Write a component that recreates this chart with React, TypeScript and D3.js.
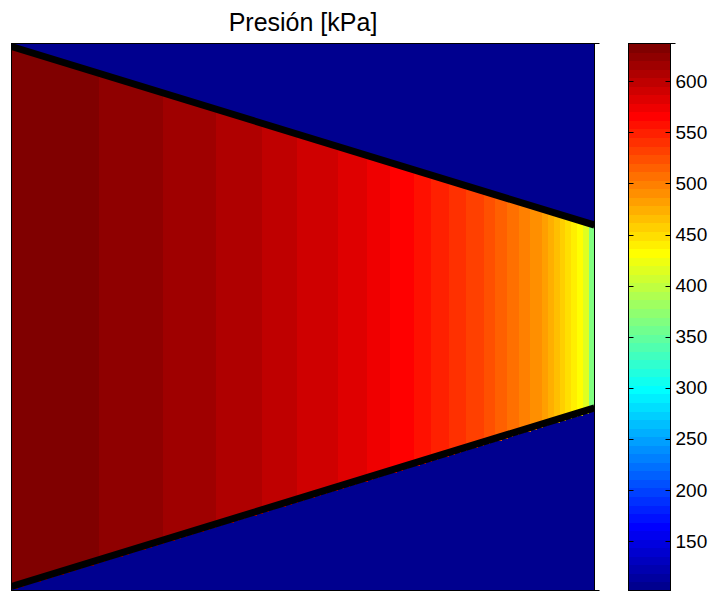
import React from "react";
import * as d3 from "d3";

// Axial cell index where each colour band of the pressure field starts (100 cells along the nozzle)
const bandStart = [0, 15, 26, 35, 43, 49, 56, 61, 65, 69, 72, 75, 78, 81, 83, 85, 87, 89, 91, 92, 93, 94, 95, 96, 97, 98, 99];
// Static pressure in each band [kPa]
const bandPressure = [633, 624, 616, 608, 599, 591, 583, 574, 566, 558, 549, 541, 533, 524, 516, 507, 499, 491, 482, 474, 466, 457, 449, 441, 432, 416, 365];
const nozzleCells = 100;

// Wall half-height (relative to the axis half-height) at inlet and exit
const wallInlet = 0.989;
const wallExit = 0.336;

// Colour limits and colorbar ticks [kPa]
const colorLimits = [101.5, 637];
const colorTicks = [150, 200, 250, 300, 350, 400, 450, 500, 550, 600];

// MATLAB-style jet colormap with m entries
function jet(m: number): string[] {
  const n = Math.ceil(m / 4);
  const u: number[] = [];
  for (let i = 1; i <= n; i++) u.push(i / n);
  for (let i = 1; i < n; i++) u.push(1);
  for (let i = n; i >= 1; i--) u.push(i / n);
  const gOff = Math.ceil(n / 2) - (m % 4 === 1 ? 1 : 0);
  const r = new Array(m).fill(0), g = new Array(m).fill(0), b = new Array(m).fill(0);
  u.forEach((v, j) => {
    const gi = gOff + j + 1;
    const ri = gi + n;
    const bi = gi - n;
    if (gi >= 1 && gi <= m) g[gi - 1] = v;
    if (ri >= 1 && ri <= m) r[ri - 1] = v;
    if (bi >= 1 && bi <= m) b[bi - 1] = v;
  });
  return r.map((_, i) => d3.rgb(Math.round(r[i] * 255), Math.round(g[i] * 255), Math.round(b[i] * 255)).formatHex());
}

const cmap = jet(64);
const colorOf = (p: number) => {
  const t = (p - colorLimits[0]) / (colorLimits[1] - colorLimits[0]);
  const k = Math.max(0, Math.min(63, Math.floor(t * 64)));
  return cmap[k];
};

export default function App() {
  const W = 713, H = 592;
  const plot = { left: 11.5, right: 594.5, top: 43.5, bottom: 590.5 };
  const x = d3.scaleLinear().domain([0, nozzleCells]).range([plot.left, plot.right]);
  const y = d3.scaleLinear().domain([-1, 1]).range([plot.bottom, plot.top]);
  const wall = d3.scaleLinear().domain([0, nozzleCells]).range([wallInlet, wallExit]);

  const bands = bandStart.map((s, i) => ({
    x0: s,
    x1: i + 1 < bandStart.length ? bandStart[i + 1] : nozzleCells,
    p: bandPressure[i],
  }));

  // staircase outline of the flow cells
  const cellIdx = d3.range(nozzleCells);
  const cells = cellIdx.map((c) => ({ c, h: wall(c) }));

  const topLine = d3.line<number>().x((c) => x(c)).y((c) => y(wall(c)));
  const botLine = d3.line<number>().x((c) => x(c)).y((c) => y(-wall(c)) - 1);

  const cb = { left: 628.5, right: 670.5 };
  const cy = d3.scaleLinear().domain(colorLimits).range([plot.bottom, plot.top]);
  const levels = d3.range(64).map((k) => ({
    v0: colorLimits[0] + (k * (colorLimits[1] - colorLimits[0])) / 64,
    v1: colorLimits[0] + ((k + 1) * (colorLimits[1] - colorLimits[0])) / 64,
    color: cmap[k],
  }));

  const font = "'Liberation Sans', Arial, Helvetica, sans-serif";

  return (
    <svg width={W} height={H} style={{ position: "absolute", left: 0, top: 0, background: "#fff" }}>
      <defs>
        <clipPath id="axclip">
          <rect x={plot.left} y={plot.top} width={plot.right - plot.left} height={plot.bottom - plot.top} />
        </clipPath>
      </defs>
      <text x={(plot.left + plot.right) / 2} y={31} textAnchor="middle" fontFamily={font} fontSize={25} fill="#000">
        Presión [kPa]
      </text>
      <g clipPath="url(#axclip)">
        <rect x={plot.left} y={plot.top} width={plot.right - plot.left} height={plot.bottom - plot.top} fill={cmap[0]} />
        {bands.map((b, i) =>
          cells
            .filter((c) => c.c >= b.x0 && c.c < b.x1)
            .map((c) => (
              <rect
                key={`${i}-${c.c}`}
                x={x(c.c)}
                width={x(c.c + 1) - x(c.c) + 0.5}
                y={y(c.h)}
                height={y(-c.h) - y(c.h) + 1.3}
                fill={colorOf(b.p)}
                shapeRendering="crispEdges"
              />
            ))
        )}
        <path d={topLine([0, nozzleCells])!} stroke="#000" strokeWidth={7} fill="none" />
        <path d={botLine([0, nozzleCells])!} stroke="#000" strokeWidth={7} fill="none" />
      </g>
      <rect x={plot.left} y={plot.top} width={plot.right - plot.left} height={plot.bottom - plot.top} fill="none" stroke="#000" strokeWidth={1} />
      <line x1={plot.right} x2={plot.right + 5} y1={plot.top} y2={plot.top} stroke="#000" />
      <line x1={plot.right} x2={plot.right + 5} y1={plot.bottom} y2={plot.bottom} stroke="#000" />

      {/* colorbar */}
      <g>
        {levels.map((l, k) => (
          <rect
            key={k}
            x={cb.left}
            width={cb.right - cb.left}
            y={cy(l.v1)}
            height={cy(l.v0) - cy(l.v1) + 0.5}
            fill={l.color}
            shapeRendering="crispEdges"
          />
        ))}
        <rect x={cb.left} y={plot.top} width={cb.right - cb.left} height={plot.bottom - plot.top} fill="none" stroke="#000" />
        <line x1={cb.right} x2={cb.right + 5} y1={plot.top} y2={plot.top} stroke="#000" />
        {colorTicks.map((t) => (
          <g key={t}>
            <line x1={cb.left} x2={cb.left + 5} y1={Math.round(cy(t)) + 0.5} y2={Math.round(cy(t)) + 0.5} stroke="#000" />
            <line x1={cb.right - 5} x2={cb.right} y1={Math.round(cy(t)) + 0.5} y2={Math.round(cy(t)) + 0.5} stroke="#000" />
            <text x={cb.right + 5} y={cy(t)} dy="0.35em" fontFamily={font} fontSize={19} fill="#000">
              {t}
            </text>
          </g>
        ))}
      </g>
    </svg>
  );
}
